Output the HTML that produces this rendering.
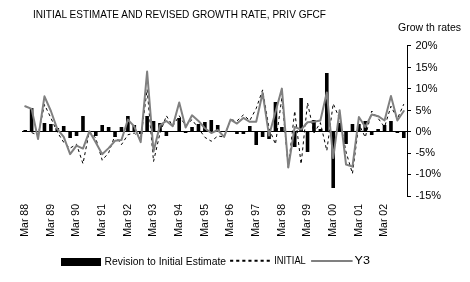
<!DOCTYPE html>
<html><head><meta charset="utf-8"><style>
html,body{margin:0;padding:0;background:#fff;}
svg{display:block;will-change:transform;}
text{font-family:"Liberation Sans",sans-serif;font-size:11px;fill:#000;}
</style></head><body>
<svg width="470" height="282" viewBox="0 0 470 282">
<rect width="470" height="282" fill="#fff"/>
<text x="33" y="18" textLength="293" lengthAdjust="spacingAndGlyphs">INITIAL ESTIMATE AND REVISED GROWTH RATE, PRIV GFCF</text>
<text x="398" y="30.8" textLength="63" lengthAdjust="spacingAndGlyphs">Grow th rates</text>
<rect x="23.41" y="130" width="3.60" height="1" fill="#000"/>
<rect x="29.82" y="108" width="3.60" height="23" fill="#000"/>
<rect x="42.66" y="123" width="3.60" height="8" fill="#000"/>
<rect x="49.08" y="124" width="3.60" height="7" fill="#000"/>
<rect x="55.49" y="128" width="3.60" height="3" fill="#000"/>
<rect x="61.91" y="126" width="3.60" height="5" fill="#000"/>
<rect x="68.33" y="131" width="3.60" height="7" fill="#000"/>
<rect x="74.74" y="131" width="3.60" height="5" fill="#000"/>
<rect x="81.16" y="116" width="3.60" height="15" fill="#000"/>
<rect x="93.99" y="131" width="3.60" height="5" fill="#000"/>
<rect x="100.41" y="125" width="3.60" height="6" fill="#000"/>
<rect x="106.83" y="127" width="3.60" height="4" fill="#000"/>
<rect x="113.24" y="131" width="3.60" height="6" fill="#000"/>
<rect x="119.66" y="127" width="3.60" height="4" fill="#000"/>
<rect x="126.08" y="116" width="3.60" height="15" fill="#000"/>
<rect x="132.49" y="125" width="3.60" height="6" fill="#000"/>
<rect x="138.91" y="131" width="3.60" height="3" fill="#000"/>
<rect x="145.32" y="116" width="3.60" height="15" fill="#000"/>
<rect x="151.74" y="121" width="3.60" height="10" fill="#000"/>
<rect x="158.16" y="123" width="3.60" height="8" fill="#000"/>
<rect x="164.57" y="131" width="3.60" height="5" fill="#000"/>
<rect x="177.41" y="118" width="3.60" height="13" fill="#000"/>
<rect x="183.82" y="131" width="3.60" height="2" fill="#000"/>
<rect x="190.24" y="127" width="3.60" height="4" fill="#000"/>
<rect x="196.66" y="124" width="3.60" height="7" fill="#000"/>
<rect x="203.07" y="122" width="3.60" height="9" fill="#000"/>
<rect x="209.49" y="120" width="3.60" height="11" fill="#000"/>
<rect x="215.91" y="125" width="3.60" height="6" fill="#000"/>
<rect x="235.16" y="131" width="3.60" height="3" fill="#000"/>
<rect x="241.57" y="131" width="3.60" height="3" fill="#000"/>
<rect x="247.99" y="126" width="3.60" height="5" fill="#000"/>
<rect x="254.41" y="131" width="3.60" height="14" fill="#000"/>
<rect x="260.82" y="131" width="3.60" height="6" fill="#000"/>
<rect x="267.24" y="131" width="3.60" height="8" fill="#000"/>
<rect x="273.66" y="102" width="3.60" height="29" fill="#000"/>
<rect x="280.07" y="127" width="3.60" height="4" fill="#000"/>
<rect x="292.91" y="131" width="3.60" height="16" fill="#000"/>
<rect x="299.32" y="98" width="3.60" height="33" fill="#000"/>
<rect x="305.74" y="131" width="3.60" height="21" fill="#000"/>
<rect x="312.16" y="120" width="3.60" height="11" fill="#000"/>
<rect x="318.57" y="129" width="3.60" height="2" fill="#000"/>
<rect x="324.99" y="73" width="3.60" height="58" fill="#000"/>
<rect x="331.41" y="131" width="3.60" height="57" fill="#000"/>
<rect x="337.82" y="123" width="3.60" height="8" fill="#000"/>
<rect x="344.24" y="131" width="3.60" height="13" fill="#000"/>
<rect x="350.66" y="124" width="3.60" height="7" fill="#000"/>
<rect x="357.07" y="124" width="3.60" height="7" fill="#000"/>
<rect x="363.49" y="121" width="3.60" height="10" fill="#000"/>
<rect x="369.91" y="131" width="3.60" height="4" fill="#000"/>
<rect x="376.32" y="129" width="3.60" height="2" fill="#000"/>
<rect x="382.74" y="125" width="3.60" height="6" fill="#000"/>
<rect x="389.16" y="121" width="3.60" height="10" fill="#000"/>
<rect x="395.57" y="131" width="3.60" height="2" fill="#000"/>
<rect x="401.99" y="131" width="3.60" height="7" fill="#000"/>
<line x1="22.0" y1="131.5" x2="407.0" y2="131.5" stroke="#000" stroke-width="1"/>
<polyline points="31.62,132.59 38.04,135.18 44.46,104.55 50.88,117.93 57.29,132.16 63.71,142.30 70.12,148.12 76.54,144.24 82.96,163.66 89.38,131.30 95.79,138.20 102.21,160.20 108.62,152.87 115.04,135.18 121.46,144.67 127.88,134.75 134.29,133.03 140.71,139.07 147.12,89.45 153.54,161.50 159.96,133.24 166.38,115.77 172.79,126.12 179.21,115.77 185.62,125.69 192.04,119.65 198.46,128.28 204.88,137.34 211.29,141.22 217.71,136.05 224.12,136.91 230.54,119.65 236.96,120.95 243.38,114.91 249.79,120.52 256.21,108.44 262.62,89.89 269.04,128.28 275.46,144.24 281.88,97.65 288.29,167.54 294.71,111.02 301.12,164.09 307.54,102.83 313.96,133.03 320.38,122.67 326.79,150.71 333.21,103.69 339.62,118.79 346.04,152.01 352.46,173.58 358.88,123.97 365.29,137.34 371.71,111.02 378.12,118.36 384.54,126.99 390.96,106.28 397.38,118.79 403.79,104.12" fill="none" stroke="#000" stroke-width="1" stroke-dasharray="3 3"/>
<polyline points="25.21,106.28 31.62,108.87 38.04,139.07 44.46,96.36 50.88,111.02 57.29,129.14 63.71,136.91 70.12,154.16 76.54,145.54 82.96,148.56 89.38,131.30 95.79,142.52 102.21,154.16 108.62,148.12 115.04,140.79 121.46,139.93 127.88,119.65 134.29,126.55 140.71,142.09 147.12,71.55 153.54,151.58 159.96,125.26 166.38,120.95 172.79,126.12 179.21,102.40 185.62,127.42 192.04,115.34 198.46,120.95 204.88,128.28 211.29,133.03 217.71,130.01 224.12,136.91 230.54,119.65 236.96,123.53 243.38,117.93 249.79,121.81 256.21,121.81 262.62,92.91 269.04,135.61 275.46,111.89 281.88,88.59 288.29,167.54 294.71,126.99 301.12,129.57 307.54,122.24 313.96,121.81 320.38,120.52 326.79,92.47 333.21,158.05 339.62,110.16 346.04,164.52 352.46,166.67 358.88,117.06 365.29,126.99 371.71,114.48 378.12,116.20 384.54,120.52 390.96,95.93 397.38,120.52 403.79,111.02" fill="none" stroke="#808080" stroke-width="2" stroke-linejoin="round" stroke-linecap="round"/>
<line x1="407.5" y1="45" x2="407.5" y2="197" stroke="#000" stroke-width="1"/>
<line x1="407" y1="45.5" x2="411" y2="45.5" stroke="#000" stroke-width="1"/>
<line x1="407" y1="67.5" x2="411" y2="67.5" stroke="#000" stroke-width="1"/>
<line x1="407" y1="88.5" x2="411" y2="88.5" stroke="#000" stroke-width="1"/>
<line x1="407" y1="110.5" x2="411" y2="110.5" stroke="#000" stroke-width="1"/>
<line x1="407" y1="131.5" x2="411" y2="131.5" stroke="#000" stroke-width="1"/>
<line x1="407" y1="153.5" x2="411" y2="153.5" stroke="#000" stroke-width="1"/>
<line x1="407" y1="174.5" x2="411" y2="174.5" stroke="#000" stroke-width="1"/>
<line x1="407" y1="196.5" x2="411" y2="196.5" stroke="#000" stroke-width="1"/>
<text x="415.4" y="48.80">20%</text>
<text x="415.4" y="70.60">15%</text>
<text x="415.4" y="92.00">10%</text>
<text x="415.4" y="113.60">5%</text>
<text x="415.4" y="134.80">0%</text>
<text x="415.4" y="156.40">-5%</text>
<text x="415.4" y="177.20">-10%</text>
<text x="415.4" y="198.50">-15%</text>
<text transform="translate(28.11,236.7) rotate(-90)" textLength="32.7" lengthAdjust="spacingAndGlyphs">Mar 88</text>
<text transform="translate(53.77,236.7) rotate(-90)" textLength="32.7" lengthAdjust="spacingAndGlyphs">Mar 89</text>
<text transform="translate(79.44,236.7) rotate(-90)" textLength="32.7" lengthAdjust="spacingAndGlyphs">Mar 90</text>
<text transform="translate(105.11,236.7) rotate(-90)" textLength="32.7" lengthAdjust="spacingAndGlyphs">Mar 91</text>
<text transform="translate(130.78,236.7) rotate(-90)" textLength="32.7" lengthAdjust="spacingAndGlyphs">Mar 92</text>
<text transform="translate(156.44,236.7) rotate(-90)" textLength="32.7" lengthAdjust="spacingAndGlyphs">Mar 93</text>
<text transform="translate(182.11,236.7) rotate(-90)" textLength="32.7" lengthAdjust="spacingAndGlyphs">Mar 94</text>
<text transform="translate(207.78,236.7) rotate(-90)" textLength="32.7" lengthAdjust="spacingAndGlyphs">Mar 95</text>
<text transform="translate(233.44,236.7) rotate(-90)" textLength="32.7" lengthAdjust="spacingAndGlyphs">Mar 96</text>
<text transform="translate(259.11,236.7) rotate(-90)" textLength="32.7" lengthAdjust="spacingAndGlyphs">Mar 97</text>
<text transform="translate(284.77,236.7) rotate(-90)" textLength="32.7" lengthAdjust="spacingAndGlyphs">Mar 98</text>
<text transform="translate(310.44,236.7) rotate(-90)" textLength="32.7" lengthAdjust="spacingAndGlyphs">Mar 99</text>
<text transform="translate(336.11,236.7) rotate(-90)" textLength="32.7" lengthAdjust="spacingAndGlyphs">Mar 00</text>
<text transform="translate(361.77,236.7) rotate(-90)" textLength="32.7" lengthAdjust="spacingAndGlyphs">Mar 01</text>
<text transform="translate(387.44,236.7) rotate(-90)" textLength="32.7" lengthAdjust="spacingAndGlyphs">Mar 02</text>
<rect x="61" y="258" width="40" height="8" fill="#000"/>
<text x="104.6" y="264.5" textLength="121.5" lengthAdjust="spacingAndGlyphs">Revision to Initial Estimate</text>
<line x1="230.1" y1="260.8" x2="270" y2="260.8" stroke="#000" stroke-width="2" stroke-dasharray="3.1 3"/>
<text x="274.2" y="264.0" textLength="31.6" lengthAdjust="spacingAndGlyphs">INITIAL</text>
<line x1="311.1" y1="261" x2="352.6" y2="261" stroke="#808080" stroke-width="2.2"/>
<text x="354.6" y="264.3" textLength="15.4" lengthAdjust="spacingAndGlyphs">Y3</text>
</svg>
</body></html>
